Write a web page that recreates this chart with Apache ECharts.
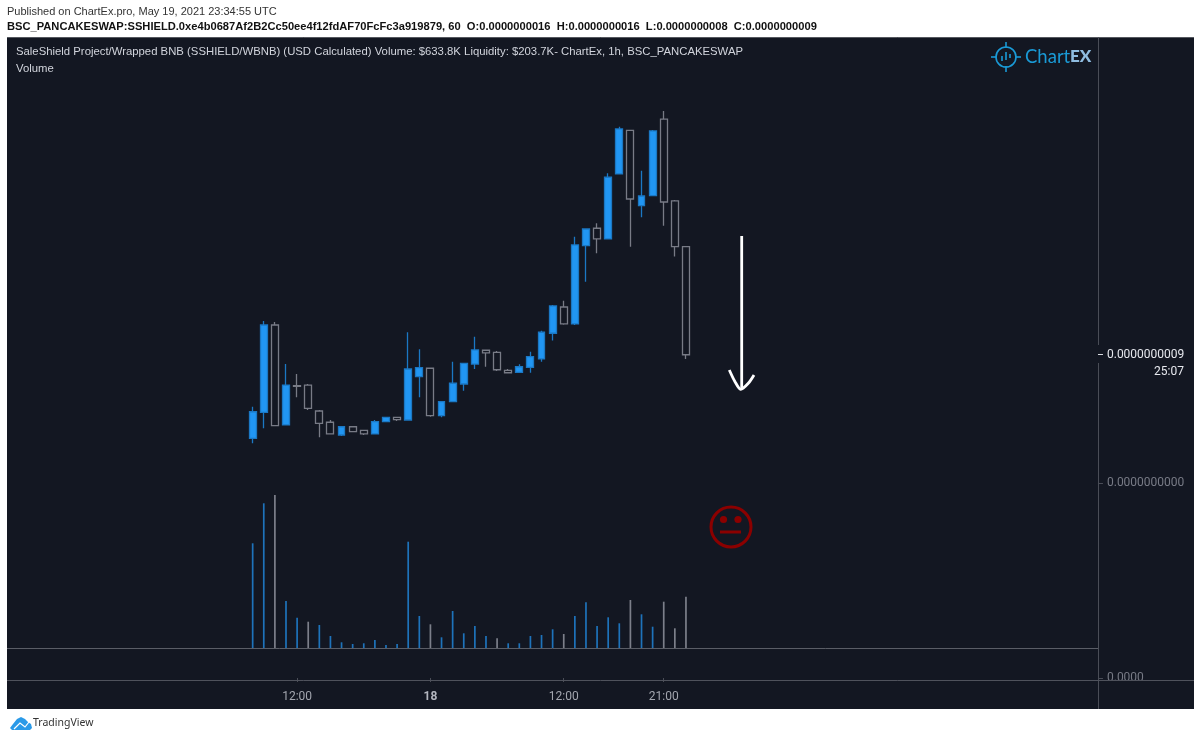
<!DOCTYPE html>
<html>
<head>
    <meta charset="UTF-8">
    <title>SSHIELD/WBNB</title>
    <style>
        html, body { margin: 0; padding: 0; background: #fff; }
        #main { width: 1200px; height: 740px; }
    </style>
</head>
<body>
<div id="main"></div>
<script src="https://cdn.jsdelivr.net/npm/echarts@6/dist/echarts.min.js"></script>
<script>
    // prices are in units of 1e-10 WBNB
    var PRICE_UNIT = 1e-10;
    var hours = ['08:00','09:00','10:00','11:00','12:00','13:00','14:00','15:00','16:00','17:00','18:00','19:00','20:00','21:00','22:00','23:00',
        '18','01:00','02:00','03:00','04:00','05:00','06:00','07:00','08:00','09:00','10:00','11:00','12:00','13:00','14:00','15:00','16:00','17:00','18:00','19:00','20:00','21:00','22:00','23:00'];
    var opens  = [2.98,4.71,10.53,3.87,6.49,6.53,4.8,4.05,3.2,3.75,3.51,3.27,4.09,4.38,4.2,7.09,7.65,4.49,5.42,6.6,7.93,8.85,8.71,7.51,7.38,7.71,8.27,9.98,11.73,10.6,15.82,16.98,16.27,20.6,23.51,18.49,19.15,24.25,18.8,15.75];
    var closes = [4.75,10.53,3.82,6.53,6.45,4.98,3.98,3.27,3.75,3.42,3.27,4.09,4.38,4.22,7.6,7.69,4.49,5.42,6.65,7.98,8.87,8.67,7.55,7.35,7.75,8.42,10.05,11.8,10.6,15.87,16.93,16.27,20.38,23.6,18.93,19.13,23.47,18.73,15.75,8.55];
    var lows   = [2.65,3.65,3.82,3.87,5.71,4.87,3.05,3.27,3.13,3.4,3.2,3.27,4.07,4.13,4.2,5.71,4.42,4.38,5.42,6.15,7.6,7.75,7.47,7.31,7.35,7.35,8.09,9.49,10.55,10.53,13.42,15.31,16.27,20.6,15.75,17.71,19.15,17.15,15.09,8.27];
    var highs  = [5.09,10.8,10.73,7.93,7.27,6.6,4.87,4.2,3.8,3.8,3.55,4.2,4.42,4.42,10.05,8.91,7.69,5.47,8.09,8.02,9.75,8.87,8.8,7.6,7.91,8.75,10.15,11.87,12.15,16.42,16.93,17.31,20.65,23.75,23.51,20.82,23.53,24.8,18.87,15.75];
    var volumes = [104.7,144.7,153,47,30.3,26.3,23,12,5.7,4,4.7,8,3,4,106.3,32,23.7,10.7,37,14.7,22,12,9.7,4.7,4.7,12,13,18.7,14,32,45.7,22,30.7,24.7,48,33.7,21.3,46.3,19.7,51.3];
    var volumeDownBars = [2,5,16,22,28,34,37,38,39];
    var labelledBars = [4,16,28,37];
    var boldLabels = ['18'];

    var PAD_LEFT = 21, PAD_RIGHT = 36, SLOT = 11.11;
    var panel = '#131722', axisGray = '#4a4d57', blue = '#2196f3', wickBlue = '#1b78c4', gray = '#787b86';

    var categories = [], candles = [], volumeBars = [], i;
    for (i = 0; i < PAD_LEFT; i++) { categories.push('l' + i); candles.push('-'); volumeBars.push('-'); }
    for (i = 0; i < hours.length; i++) {
        categories.push(hours[i]);
        candles.push([opens[i], closes[i], lows[i], highs[i]]);
        volumeBars.push({
            value: volumes[i],
            itemStyle: { color: volumeDownBars.indexOf(i) >= 0 ? '#7c7f8a' : '#1e73bb' }
        });
    }
    for (i = 0; i < PAD_RIGHT; i++) { categories.push('r' + i); candles.push('-'); volumeBars.push('-'); }

    function showBar(index) {
        return labelledBars.indexOf(index - PAD_LEFT) >= 0;
    }
    function priceLabel(v) {
        return (v * PRICE_UNIT).toFixed(10);
    }
    function hline(x1, x2, y, color) {
        return { type: 'line', z: 1, shape: { x1: x1, y1: y, x2: x2, y2: y }, style: { stroke: color, lineWidth: 1 } };
    }
    function vline(x, y1, y2) {
        return { type: 'line', z: 1, shape: { x1: x, y1: y1, x2: x, y2: y2 }, style: { stroke: axisGray, lineWidth: 1 } };
    }
    function text(x, y, str, font, color, align) {
        return { type: 'text', z: 5, x: x, y: y, style: { text: str, font: font, fill: color, align: align || 'left', verticalAlign: 'middle' } };
    }

    var lastClose = closes[closes.length - 1];
    var grids = { left: 13.8, width: PAD_LEFT * SLOT + hours.length * SLOT + PAD_RIGHT * SLOT };

    var myChart = echarts.init(document.getElementById('main'), null, { renderer: 'canvas' });
    var option = {
        animation: false,
        backgroundColor: '#ffffff',
        grid: [
            { left: grids.left, width: grids.width, top: 37, height: 611 },
            { left: grids.left, width: grids.width, top: 37, height: 611 },
            { left: grids.left, width: grids.width, top: 648, height: 33 }
        ],
        xAxis: [
            { type: 'category', gridIndex: 0, data: categories, show: false },
            { type: 'category', gridIndex: 1, data: categories, show: false },
            {
                type: 'category', gridIndex: 2, data: categories, position: 'bottom',
                axisLine: { show: false },
                axisTick: { show: true, length: 4, alignWithLabel: true, interval: showBar, lineStyle: { color: axisGray } },
                axisLabel: {
                    show: true, interval: showBar, margin: 10, hideOverlap: false,
                    fontFamily: 'Roboto', fontSize: 12, color: '#a3a6af',
                    formatter: function (v) {
                        return boldLabels.indexOf(v) >= 0 ? '{b|' + v + '}' : v;
                    },
                    rich: { b: { fontFamily: 'Roboto', fontSize: 12, fontWeight: 'bold', color: '#b2b5be' } }
                },
                splitLine: { show: false }
            }
        ],
        yAxis: [
            {
                type: 'value', gridIndex: 0, position: 'right', offset: 6.5, min: -11, max: 29.73, scale: true,
                axisLine: { show: false }, splitLine: { show: false },
                axisTick: { show: true, length: 5, customValues: [0], lineStyle: { color: axisGray } },
                axisLabel: { customValues: [0], margin: 9, fontFamily: 'Roboto', fontSize: 12, color: '#787b86', formatter: priceLabel }
            },
            {
                type: 'value', gridIndex: 0, position: 'right', offset: 6.5, min: -11, max: 29.73, scale: true,
                axisLine: { show: false }, splitLine: { show: false },
                axisTick: { show: true, length: 5, customValues: [lastClose], lineStyle: { color: '#d8dae0' } },
                axisLabel: { customValues: [lastClose], margin: 9, fontFamily: 'Roboto', fontSize: 12, color: '#e6e8ee', formatter: priceLabel }
            },
            { type: 'value', gridIndex: 1, min: 0, max: 611, show: false },
            {
                type: 'value', gridIndex: 2, position: 'right', offset: 6.5, min: -3, max: 30,
                axisLine: { show: false }, splitLine: { show: false },
                axisTick: { show: true, length: 5, customValues: [0], lineStyle: { color: axisGray } },
                axisLabel: {
                    customValues: [0], margin: 9, fontFamily: 'Roboto', fontSize: 12, color: '#787b86',
                    formatter: function (v) { return v.toFixed(4); }
                }
            }
        ],
        series: [
            {
                type: 'bar', xAxisIndex: 1, yAxisIndex: 2, data: volumeBars,
                barWidth: 1.7, silent: true
            },
            {
                type: 'candlestick', xAxisIndex: 0, yAxisIndex: 0, data: candles,
                barWidth: 7.4, silent: true,
                itemStyle: {
                    color: blue, color0: panel,
                    borderColor: wickBlue, borderColor0: gray,
                    borderWidth: 1.3
                }
            },
            // empty series so the third pane has its scale
            { type: 'line', xAxisIndex: 2, yAxisIndex: 3, data: [], silent: true }
        ],
        graphic: [
            { type: 'rect', z: -1, shape: { x: 7, y: 37, width: 1187, height: 672 }, style: { fill: panel } },
            hline(7, 1194, 37.5, '#55585f'),
            vline(1098.5, 37, 345),
            vline(1098.5, 363, 709),
            hline(7, 1098, 648.5, '#5a5d66'),
            hline(7, 1194, 680.5, '#4f525c'),

            text(7, 12, 'Published on ChartEx.pro, May 19, 2021 23:34:55 UTC', '11px "Liberation Sans"', '#333333'),
            text(7, 27, 'BSC_PANCAKESWAP:SSHIELD.0xe4b0687Af2B2Cc50ee4f12fdAF70FcFc3a919879, 60  O:0.0000000016  H:0.0000000016  L:0.0000000008  C:0.0000000009', 'bold 11.15px "Liberation Sans"', '#111111'),
            text(16, 52, 'SaleShield Project/Wrapped BNB (SSHIELD/WBNB) (USD Calculated) Volume: $633.8K Liquidity: $203.7K- ChartEx, 1h, BSC_PANCAKESWAP', '11.33px "Liberation Sans"', '#d1d4dc'),
            text(16, 69, 'Volume', '11.33px "Liberation Sans"', '#d1d4dc'),
            text(1184, 372, '25:07', '12px Roboto', '#e6e8ee', 'right'),

            // ChartEX logo
            { type: 'circle', z: 5, shape: { cx: 1006, cy: 57, r: 10 }, style: { fill: 'none', stroke: '#1a9ad6', lineWidth: 1.6 } },
            { type: 'line', z: 5, shape: { x1: 1006, y1: 42, x2: 1006, y2: 48 }, style: { stroke: '#1a9ad6', lineWidth: 1.6 } },
            { type: 'line', z: 5, shape: { x1: 1006, y1: 66, x2: 1006, y2: 72 }, style: { stroke: '#1a9ad6', lineWidth: 1.6 } },
            { type: 'line', z: 5, shape: { x1: 991, y1: 57, x2: 997, y2: 57 }, style: { stroke: '#1a9ad6', lineWidth: 1.6 } },
            { type: 'line', z: 5, shape: { x1: 1015, y1: 57, x2: 1021, y2: 57 }, style: { stroke: '#1a9ad6', lineWidth: 1.6 } },
            { type: 'line', z: 5, shape: { x1: 1002, y1: 56, x2: 1002, y2: 61 }, style: { stroke: '#1a9ad6', lineWidth: 1.6 } },
            { type: 'line', z: 5, shape: { x1: 1006, y1: 52, x2: 1006, y2: 60 }, style: { stroke: '#1a9ad6', lineWidth: 1.6 } },
            { type: 'line', z: 5, shape: { x1: 1010, y1: 54, x2: 1010, y2: 58 }, style: { stroke: '#1a9ad6', lineWidth: 1.6 } },
            text(1025, 57, 'Chart', '18.5px Lato', '#1a9ad6'),
            text(1070, 57, 'EX', '900 17px Lato', '#8fbce0'),

            // drawn arrow
            { type: 'line', z: 5, shape: { x1: 741.7, y1: 236, x2: 741.7, y2: 389 }, style: { stroke: '#ffffff', lineWidth: 2.8 } },
            { type: 'polyline', z: 5, shape: { points: [[729.3, 370], [735, 381.7], [740.7, 389.3], [748.3, 383.3], [754, 375]], smooth: 0.3 }, style: { fill: 'none', stroke: '#ffffff', lineWidth: 2.8 } },

            // sad face
            { type: 'circle', z: 5, shape: { cx: 731, cy: 527, r: 20 }, style: { fill: 'none', stroke: '#8b0000', lineWidth: 3 } },
            { type: 'circle', z: 5, shape: { cx: 723.5, cy: 519.5, r: 3.6 }, style: { fill: '#8b0000' } },
            { type: 'circle', z: 5, shape: { cx: 738, cy: 519.5, r: 3.6 }, style: { fill: '#8b0000' } },
            { type: 'line', z: 5, shape: { x1: 720, y1: 532, x2: 741, y2: 532 }, style: { stroke: '#8b0000', lineWidth: 3 } },

            // TradingView footer
            { type: 'polygon', z: 5, shape: { points: [[10, 728], [13, 724], [17, 719], [21, 717], [25, 719], [28, 722], [31, 724], [32, 728], [30, 730], [12, 730]] }, style: { fill: '#2a9ae8' } },
            { type: 'polyline', z: 6, shape: { points: [[14, 729], [20, 723], [25, 727], [29, 722]] }, style: { fill: 'none', stroke: '#ffffff', lineWidth: 1.2 } },
            text(33, 723, 'TradingView', '10.5px "Noto Sans"', '#333333')
        ]
    };
    myChart.setOption(option);
</script>
</body>
</html>
